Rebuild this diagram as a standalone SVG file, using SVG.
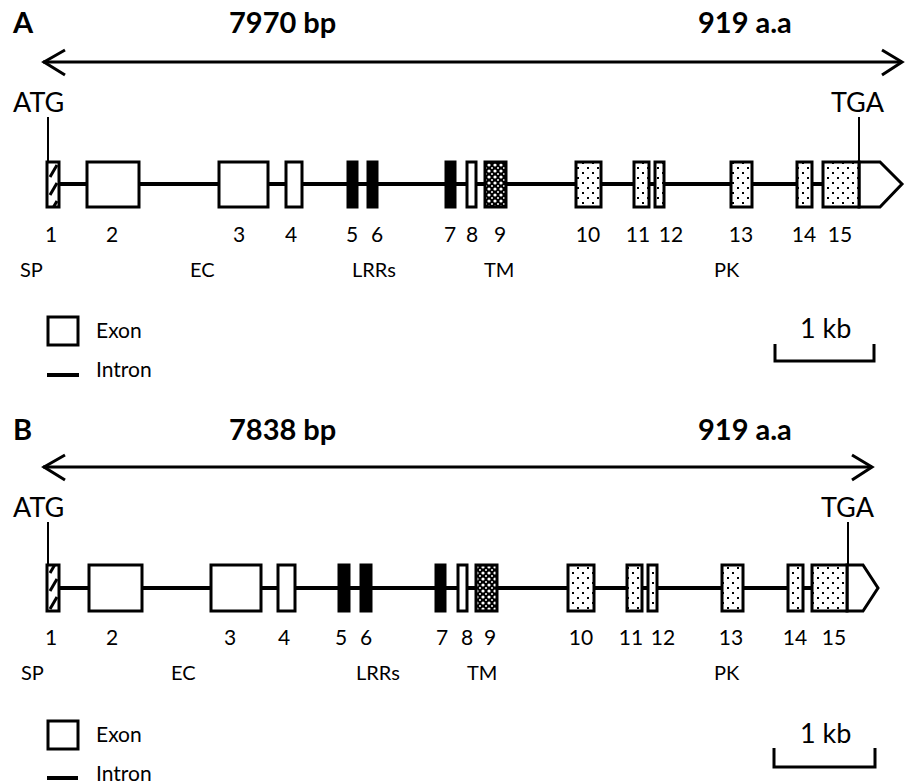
<svg xmlns="http://www.w3.org/2000/svg" width="907" height="784" viewBox="0 0 907 784">
<style>
text{font-family:Lato,"Open Sans","Liberation Sans",sans-serif;fill:#000}
.title{font-size:29px;font-weight:bold}
.codon{font-size:27px}
.num{font-size:21px;text-anchor:middle}
.dom{font-size:20px}
.leg{font-size:21px}
.kb{font-size:27px}
.ln{stroke:#000;fill:none}
.intron{stroke:#000;stroke-width:4;fill:none}
.ex{stroke:#000;stroke-width:3}
.white{fill:#fff}
.black{fill:#000}
.hatch{fill:url(#hatch)}
.tm{fill:url(#tm)}
.dots{fill:url(#dots)}
</style>
<defs>
<pattern id="hatch" patternUnits="userSpaceOnUse" width="12" height="18">
<rect width="12" height="18" fill="#fff"/>
<path d="M2,15 L9,3" stroke="#000" stroke-width="3"/>
</pattern>
<pattern id="tm" patternUnits="userSpaceOnUse" width="6" height="6">
<rect width="6" height="6" fill="#000"/>
<circle cx="3" cy="3" r="1.6" fill="#fff"/>
<circle cx="0" cy="0" r="1" fill="#fff"/>
<circle cx="6" cy="6" r="1" fill="#fff"/>
<circle cx="0" cy="6" r="1" fill="#fff"/>
<circle cx="6" cy="0" r="1" fill="#fff"/>
</pattern>
<pattern id="dots" patternUnits="userSpaceOnUse" width="10" height="10">
<rect width="10" height="10" fill="#fff"/>
<rect x="2" y="2" width="2" height="2" fill="#000"/>
<rect x="7" y="7" width="2" height="2" fill="#000"/>
</pattern>
</defs>
<rect width="907" height="784" fill="#fff"/>

<!-- Panel A -->
<g id="panelA-labels">
<text x="13" y="33" class="title">A</text>
<text x="229" y="33" class="title">7970 bp</text>
<text x="698" y="33" class="title">919 a.a</text>
<text x="13" y="112" class="codon">ATG</text>
<text x="831" y="112" class="codon">TGA</text>
</g>
<g id="panelA-connectors">
<line x1="43" y1="62" x2="902" y2="62" class="ln" stroke-width="3"/>
<path d="M65,50 L44,62 L65,75" class="ln" stroke-width="3"/>
<path d="M882,50 L902,62 L882,75" class="ln" stroke-width="3"/>
<line x1="48" y1="117" x2="48" y2="162" class="ln" stroke-width="2"/>
<line x1="859" y1="117" x2="859" y2="162" class="ln" stroke-width="2"/>
<line x1="59" y1="184" x2="823" y2="184" class="intron"/>
</g>
<g id="panelA-exons">
<rect id="A-ex1" x="47" y="162" width="12" height="45" class="ex hatch"/>
<rect id="A-ex2" x="87" y="162" width="52" height="45" class="ex white"/>
<rect id="A-ex3" x="219" y="162" width="49" height="45" class="ex white"/>
<rect id="A-ex4" x="286" y="162" width="16" height="45" class="ex white"/>
<rect id="A-ex5" x="348" y="162" width="9" height="45" class="ex black"/>
<rect id="A-ex6" x="368" y="162" width="9" height="45" class="ex black"/>
<rect id="A-ex7" x="446" y="162" width="9" height="45" class="ex black"/>
<rect id="A-ex8" x="467" y="162" width="9" height="45" class="ex white"/>
<rect id="A-ex9" x="485" y="162" width="21" height="45" class="ex tm"/>
<rect id="A-ex10" x="576" y="162" width="25" height="45" class="ex dots"/>
<rect id="A-ex11" x="634" y="162" width="15" height="45" class="ex dots"/>
<rect id="A-ex12" x="655" y="162" width="9" height="45" class="ex dots"/>
<rect id="A-ex13" x="731" y="162" width="21" height="45" class="ex dots"/>
<rect id="A-ex14" x="797" y="162" width="15" height="45" class="ex dots"/>
<g id="A-ex15">
<path d="M859,162 L880,162 L902,184 L880,207 L859,207 Z" class="ex white"/>
<rect x="823" y="162" width="36" height="45" class="ex dots"/>
</g>
</g>
<g id="panelA-numbers">
<text x="51" y="242" class="num">1</text>
<text x="112" y="242" class="num">2</text>
<text x="239" y="242" class="num">3</text>
<text x="291" y="242" class="num">4</text>
<text x="352" y="242" class="num">5</text>
<text x="377" y="242" class="num">6</text>
<text x="450" y="242" class="num">7</text>
<text x="472" y="242" class="num">8</text>
<text x="500" y="242" class="num">9</text>
<text x="588" y="242" class="num">10</text>
<text x="638" y="242" class="num">11</text>
<text x="671" y="242" class="num">12</text>
<text x="741" y="242" class="num">13</text>
<text x="804" y="242" class="num">14</text>
<text x="840" y="242" class="num">15</text>
</g>
<g id="panelA-domains">
<text x="20" y="277" class="dom">SP</text>
<text x="190" y="277" class="dom">EC</text>
<text x="352" y="277" class="dom">LRRs</text>
<text x="484" y="277" class="dom">TM</text>
<text x="714" y="277" class="dom">PK</text>
</g>
<g id="panelA-legend">
<rect x="48" y="317" width="30" height="28" class="ex white"/>
<text x="96" y="338" class="leg">Exon</text>
<line x1="47" y1="375" x2="79" y2="375" class="intron"/>
<text x="96" y="377" class="leg">Intron</text>
</g>
<g id="panelA-scale">
<text x="800" y="338" class="kb">1 kb</text>
<path d="M775,344 L775,361 L874,361 L874,344" class="ln" stroke-width="3"/>
</g>

<!-- Panel B -->
<g id="panelB-labels">
<text x="13" y="440" class="title">B</text>
<text x="229" y="440" class="title">7838 bp</text>
<text x="698" y="440" class="title">919 a.a</text>
<text x="13" y="517" class="codon">ATG</text>
<text x="821" y="517" class="codon">TGA</text>
</g>
<g id="panelB-connectors">
<line x1="43" y1="467" x2="872" y2="467" class="ln" stroke-width="3"/>
<path d="M65,455 L44,467 L65,480" class="ln" stroke-width="3"/>
<path d="M852,455 L872,467 L852,480" class="ln" stroke-width="3"/>
<line x1="48" y1="522" x2="48" y2="565" class="ln" stroke-width="2"/>
<line x1="848" y1="522" x2="848" y2="565" class="ln" stroke-width="2"/>
<line x1="59" y1="588" x2="812" y2="588" class="intron"/>
</g>
<g id="panelB-exons">
<rect id="B-ex1" x="47" y="565" width="12" height="46" class="ex hatch"/>
<rect id="B-ex2" x="89" y="565" width="53" height="46" class="ex white"/>
<rect id="B-ex3" x="211" y="565" width="50" height="46" class="ex white"/>
<rect id="B-ex4" x="278" y="565" width="17" height="46" class="ex white"/>
<rect id="B-ex5" x="339" y="565" width="10" height="46" class="ex black"/>
<rect id="B-ex6" x="361" y="565" width="10" height="46" class="ex black"/>
<rect id="B-ex7" x="436" y="565" width="9" height="46" class="ex black"/>
<rect id="B-ex8" x="458" y="565" width="9" height="46" class="ex white"/>
<rect id="B-ex9" x="476" y="565" width="21" height="46" class="ex tm"/>
<rect id="B-ex10" x="568" y="565" width="26" height="46" class="ex dots"/>
<rect id="B-ex11" x="627" y="565" width="15" height="46" class="ex dots"/>
<rect id="B-ex12" x="648" y="565" width="9" height="46" class="ex dots"/>
<rect id="B-ex13" x="722" y="565" width="21" height="46" class="ex dots"/>
<rect id="B-ex14" x="788" y="565" width="15" height="46" class="ex dots"/>
<g id="B-ex15">
<path d="M847,565 L863,565 L878,588 L863,611 L847,611 Z" class="ex white"/>
<rect x="812" y="565" width="35" height="46" class="ex dots"/>
</g>
</g>
<g id="panelB-numbers">
<text x="51" y="645" class="num">1</text>
<text x="112" y="645" class="num">2</text>
<text x="230" y="645" class="num">3</text>
<text x="284" y="645" class="num">4</text>
<text x="341" y="645" class="num">5</text>
<text x="366" y="645" class="num">6</text>
<text x="442" y="645" class="num">7</text>
<text x="467" y="645" class="num">8</text>
<text x="490" y="645" class="num">9</text>
<text x="581" y="645" class="num">10</text>
<text x="631" y="645" class="num">11</text>
<text x="663" y="645" class="num">12</text>
<text x="731" y="645" class="num">13</text>
<text x="795" y="645" class="num">14</text>
<text x="834" y="645" class="num">15</text>
</g>
<g id="panelB-domains">
<text x="21" y="680" class="dom">SP</text>
<text x="171" y="680" class="dom">EC</text>
<text x="356" y="680" class="dom">LRRs</text>
<text x="467" y="680" class="dom">TM</text>
<text x="714" y="680" class="dom">PK</text>
</g>
<g id="panelB-legend">
<rect x="48" y="721" width="30" height="28" class="ex white"/>
<text x="96" y="742" class="leg">Exon</text>
<line x1="47" y1="778" x2="78" y2="778" class="intron"/>
<text x="96" y="781" class="leg">Intron</text>
</g>
<g id="panelB-scale">
<text x="800" y="743" class="kb">1 kb</text>
<path d="M774,748 L774,767 L875,767 L875,748" class="ln" stroke-width="3"/>
</g>
</svg>
